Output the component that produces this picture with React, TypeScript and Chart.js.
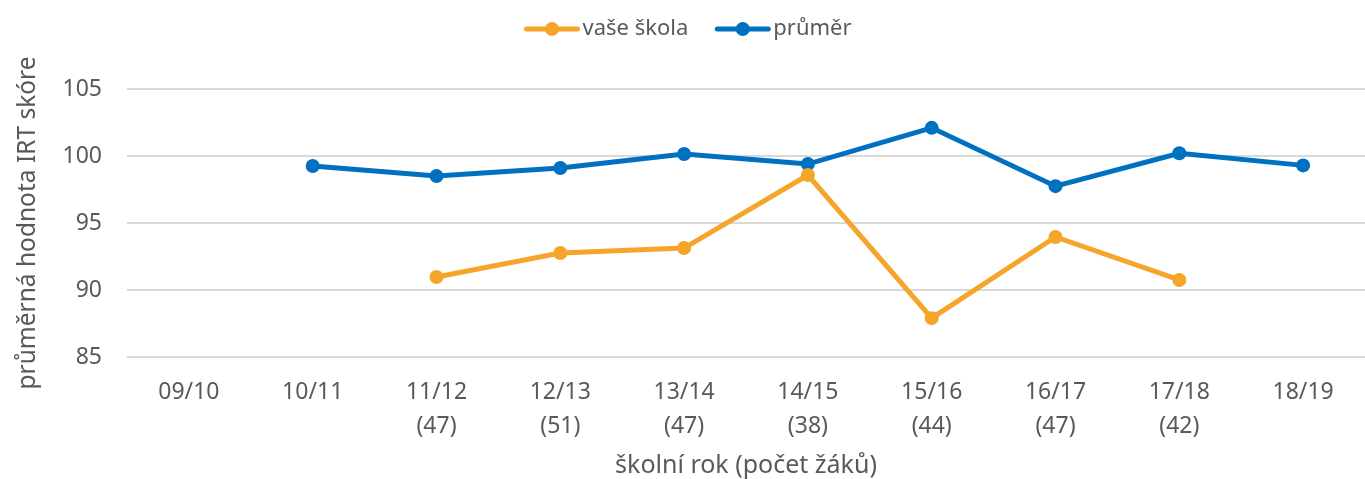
import React, { useEffect, useRef } from "react";
import { Chart, registerables } from "chart.js";

Chart.register(...registerables);

const categories: string[][] = [
  ["09/10"],
  ["10/11"],
  ["11/12", "(47)"],
  ["12/13", "(51)"],
  ["13/14", "(47)"],
  ["14/15", "(38)"],
  ["15/16", "(44)"],
  ["16/17", "(47)"],
  ["17/18", "(42)"],
  ["18/19"],
];

const skolaValues: (number | null)[] = [null, null, 90.97, 92.76, 93.13, 98.58, 87.9, 93.96, 90.75, null];
const prumerValues: (number | null)[] = [null, 99.25, 98.5, 99.1, 100.15, 99.4, 102.1, 97.75, 100.2, 99.3];

const yTicks = [85, 90, 95, 100, 105];

const ORANGE = "#F5A52A";
const BLUE = "#0070C0";
const TEXT = "#595959";
const FONT = "'Noto Sans', 'Open Sans', sans-serif";

const legendPlugin = {
  id: "customLegend",
  afterDraw(chart: any) {
    const ctx = chart.ctx as CanvasRenderingContext2D;
    const items = chart.data.datasets.map((ds: any) => ({ text: ds.label as string, color: ds.borderColor as string }));
    const iconW = 55;
    const gapText = 3;
    const gapItem = 27;
    ctx.save();
    ctx.font = `22px ${FONT}`;
    const widths = items.map((it: any) => iconW + gapText + ctx.measureText(it.text).width);
    const total = widths.reduce((a: number, b: number) => a + b, 0) + gapItem * (items.length - 1);
    let x = 688 - total / 2;
    const y = 29;
    items.forEach((it: any, i: number) => {
      ctx.strokeStyle = it.color;
      ctx.fillStyle = it.color;
      ctx.lineWidth = 5;
      ctx.lineCap = "round";
      ctx.beginPath();
      ctx.moveTo(x + 2, y);
      ctx.lineTo(x + iconW - 2, y);
      ctx.stroke();
      ctx.beginPath();
      ctx.arc(x + iconW / 2, y, 7, 0, Math.PI * 2);
      ctx.fill();
      ctx.fillStyle = TEXT;
      ctx.textBaseline = "middle";
      ctx.textAlign = "left";
      ctx.fillText(it.text, x + iconW + gapText, y);
      x += widths[i] + gapItem;
    });
    ctx.restore();
  },
};

export default function App() {
  const ref = useRef<HTMLCanvasElement | null>(null);

  useEffect(() => {
    document.body.style.margin = "0";
    if (!ref.current) return;
    const chart = new Chart(ref.current, {
      type: "line",
      data: {
        labels: categories,
        datasets: [
          {
            label: "vaše škola",
            data: skolaValues,
            borderColor: ORANGE,
            backgroundColor: ORANGE,
            borderWidth: 5,
            pointRadius: 7,
            pointHoverRadius: 7,
            pointBackgroundColor: ORANGE,
            pointBorderWidth: 0,
            tension: 0,
          },
          {
            label: "průměr",
            data: prumerValues,
            borderColor: BLUE,
            backgroundColor: BLUE,
            borderWidth: 5,
            pointRadius: 7,
            pointHoverRadius: 7,
            pointBackgroundColor: BLUE,
            pointBorderWidth: 0,
            tension: 0,
          },
        ],
      },
      options: {
        responsive: false,
        animation: false,
        layout: { autoPadding: false, padding: { left: 0, right: 0, top: 89, bottom: 0 } },
        plugins: {
          legend: { display: false },
          tooltip: { enabled: false },
        },
        scales: {
          x: {
            offset: true,
            afterFit: (axis: any) => {
              axis.height = 122;
              axis.paddingLeft = 0;
              axis.paddingRight = 0;
            },
            grid: { display: false, drawTicks: false },
            border: { display: false },
            ticks: {
              color: TEXT,
              font: { family: FONT, size: 23, lineHeight: 1.48 },
              maxRotation: 0,
              autoSkip: false,
              padding: 18,
            },
            title: {
              display: true,
              text: "školní rok (počet žáků)",
              color: TEXT,
              font: { family: FONT, size: 25, lineHeight: 1.04 },
              padding: { top: 0, bottom: 0 },
            },
          },
          y: {
            min: 85,
            max: 105,
            afterBuildTicks: (axis: any) => {
              axis.ticks = yTicks.map((v) => ({ value: v }));
            },
            afterFit: (axis: any) => {
              axis.width = 127;
              axis.paddingTop = 0;
              axis.paddingBottom = 0;
            },
            grid: { color: "#D9D9D9", lineWidth: 2, drawTicks: false },
            border: { display: false },
            ticks: {
              color: TEXT,
              font: { family: FONT, size: 23 },
              padding: 25,
            },
            title: {
              display: true,
              text: "průměrná hodnota IRT skóre",
              color: TEXT,
              font: { family: FONT, size: 24.5, lineHeight: 1.2 },
              padding: { top: 13.3, bottom: 0 },
            },
          },
        },
      },
      plugins: [legendPlugin],
    });
    return () => chart.destroy();
  }, []);

  return <canvas ref={ref} width={1365} height={479} style={{ display: "block" }} />;
}
